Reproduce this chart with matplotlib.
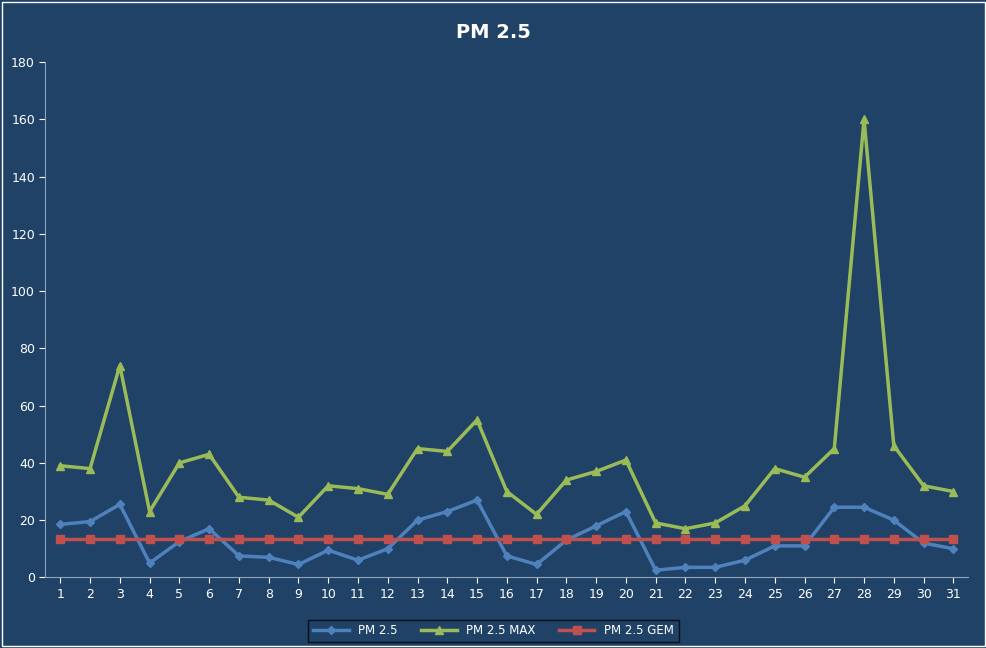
import matplotlib
matplotlib.use("Agg")
import matplotlib.pyplot as plt
import numpy as np

days = list(range(1, 32))
pm25 = [18.5,19.5,25.5,5,12.5,17,7.5,7,4.5,9.5,6,10,20,23,27,7.5,4.5,13,18,23,2.5,3.5,3.5,6,11,11,24.5,24.5,20,12,10]
pm25_max = [39,38,74,23,40,43,28,27,21,32,31,29,45,44,55,30,22,34,37,41,19,17,19,25,38,35,45,160,46,32,30]
pm25_gem = [13.5]*31

bg = "#1F4266"
fig = plt.figure(figsize=(9.87, 6.48), dpi=100, facecolor=bg)
ax = fig.add_axes([0.046, 0.109, 0.935, 0.795])
ax.set_facecolor(bg)
ax.plot(days, pm25, color="#4F81BD", marker="D", ms=4, lw=2.5, label="PM 2.5")
ax.plot(days, pm25_max, color="#9BBB59", marker="^", ms=6, lw=2.5, label="PM 2.5 MAX")
ax.plot(days, pm25_gem, color="#C0504D", marker="s", ms=6, lw=2.5, label="PM 2.5 GEM")
ax.set_xlim(0.5, 31.5)
ax.set_ylim(0, 180)
ax.set_yticks(range(0, 181, 20))
ax.set_xticks(days)
ax.tick_params(colors="white", labelsize=9, length=4)
for s in ["top", "right"]:
    ax.spines[s].set_visible(False)
for s in ["left", "bottom"]:
    ax.spines[s].set_color("#8EA4BF")
fig.suptitle("PM 2.5", color="white", fontsize=14, fontweight="bold", y=0.965)
leg = fig.legend(loc="lower center", ncol=3, bbox_to_anchor=(0.5, 0.0), frameon=True,
                 fontsize=8.5, facecolor=bg, edgecolor="black", labelcolor="white",
                 fancybox=False, handlelength=3)
fig.patches.append(plt.Rectangle((0.002, 0.003), 0.996, 0.994, transform=fig.transFigure,
                                 fill=False, edgecolor="white", lw=1))
fig.savefig("out.png", facecolor=bg)
